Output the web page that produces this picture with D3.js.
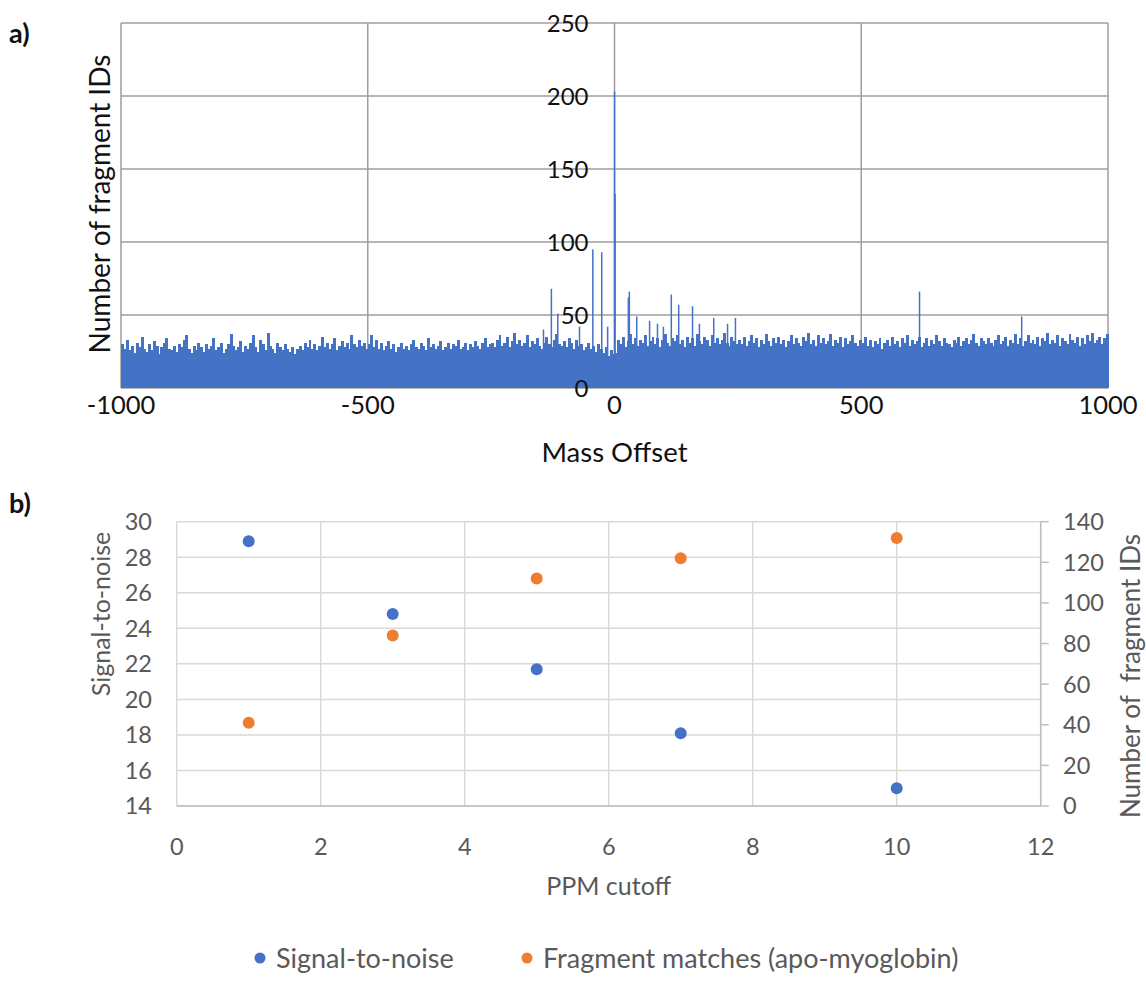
<!DOCTYPE html>
<html>
<head>
<meta charset="utf-8">
<script src="https://cdn.jsdelivr.net/npm/d3@7"></script>
<style>
    body { margin: 0; background: #fff; }
    svg { font-family: Lato, 'Open Sans', sans-serif; }
</style>
</head>
<body>
<svg id="chart" width="1146" height="981"></svg>
<script>
// ---- Data: panel a) mass offset histogram ----
// noise floor, one value per 5-unit bin starting at -1000
const noiseBinStart = -1000
const noiseBinStep = 5
const noiseCounts = [
    30,27,33,26,29,24,31,28,35,27,25,30,26,32,29,23,28,31,34,27,26,29,25,30,28,33,36,27,24,29,26,31,28,25,30,27,29,34,26,28,31,24,27,30,37,29,26,28,32,25,
    29,27,31,36,28,25,33,30,26,38,29,27,24,31,28,26,30,27,25,28,23,27,29,26,31,28,33,27,30,26,29,35,28,31,27,30,34,26,29,32,28,31,27,36,30,28,33,29,31,27,
    30,36,28,33,27,31,26,29,32,27,30,25,28,31,27,29,26,30,33,28,27,31,29,26,34,28,30,27,29,32,26,28,31,27,30,29,33,27,28,31,26,30,28,32,29,27,31,34,28,30,
    31,28,33,36,29,31,35,28,32,38,30,33,29,31,36,28,32,30,34,29,27,31,35,30,28,33,37,30,29,32,28,34,31,27,33,29,30,26,28,31,27,29,25,30,27,24,28,22,26,23,
    24,33,30,35,28,32,37,30,34,29,33,31,36,29,32,35,30,34,28,33,37,31,29,34,32,36,30,33,28,35,31,34,29,37,32,30,35,33,29,36,31,34,30,33,38,31,29,35,32,30,
    33,30,35,29,32,36,31,34,28,33,30,37,32,29,34,31,35,30,33,28,32,36,30,34,31,29,35,32,38,30,33,29,36,31,34,30,32,37,29,33,31,35,28,34,30,32,36,31,29,33,
    31,35,29,33,28,32,30,34,27,31,33,29,35,30,32,28,34,31,36,29,33,30,32,35,28,31,34,29,33,30,36,32,29,34,31,30,28,33,31,35,29,32,34,30,33,37,31,29,34,32,
    30,34,31,29,33,36,30,32,35,29,33,31,37,30,34,29,32,36,31,33,30,35,29,34,32,38,30,33,31,36,29,34,32,30,37,33,31,35,29,34,30,36,32,38,31,33,35,30,34,37
]
// isolated tall bins
const spikeOffsets = [-144, -128, -115, -71, -44, -26, -14, 0, 1, 28, 30, 45, 71, 87, 99, 115, 130, 158, 172, 201, 229, 245, 618, 825]
const spikeCounts  = [40, 68, 51, 42, 95, 93, 42, 203, 133, 62, 66, 49, 46, 44, 42, 64, 57, 56, 44, 48, 44, 48, 66, 49]
const massTicks = [-1000, -500, 0, 500, 1000]
const countTicks = [0, 50, 100, 150, 200, 250]

// ---- Data: panel b) ppm cutoff ----
const ppmCutoff = [1, 3, 5, 7, 10]
const signalToNoise = [28.9, 24.8, 21.7, 18.1, 15.0]
const fragmentMatches = [41, 84, 112, 122, 132]
const ppmTicks = [0, 2, 4, 6, 8, 10, 12]
const snTicks = [14, 16, 18, 20, 22, 24, 26, 28, 30]
const matchTicks = [0, 20, 40, 60, 80, 100, 120, 140]
const legendLabels = ['Signal-to-noise', 'Fragment matches (apo-myoglobin)']

const colorBlue = '#4472C4'
const colorOrange = '#ED7D31'
const colorText = '#595959'

const svg = d3.select('#chart')

//==================== panel a ====================
const aLeft = 121, aRight = 1108, aTop = 23, aBottom = 388

const xMass = d3.scaleLinear().domain([-1000, 1000]).range([aLeft, aRight])
const yCount = d3.scaleLinear().domain([0, 250]).range([aBottom, aTop])

const gA = svg.append('g')

// grid
gA.selectAll('.hgrid').data(countTicks).join('line')
    .attr('x1', aLeft).attr('x2', aRight)
    .attr('y1', d => yCount(d)).attr('y2', d => yCount(d))
    .attr('stroke', '#9e9e9e').attr('stroke-width', 1.5)
gA.selectAll('.vgrid').data(massTicks).join('line')
    .attr('x1', d => xMass(d)).attr('x2', d => xMass(d))
    .attr('y1', aTop).attr('y2', aBottom)
    .attr('stroke', '#9e9e9e').attr('stroke-width', 1.5)

// noise bars
gA.append('g').attr('shape-rendering', 'crispEdges')
    .selectAll('rect').data(noiseCounts).join('rect')
    .attr('x', (d, i) => xMass(noiseBinStart + i * noiseBinStep))
    .attr('width', xMass(noiseBinStep) - xMass(0) + 0.5)
    .attr('y', d => yCount(d))
    .attr('height', d => aBottom - yCount(d))
    .attr('fill', colorBlue)

// spikes
gA.append('g')
    .selectAll('rect').data(spikeOffsets).join('rect')
    .attr('x', d => xMass(d) - 0.7)
    .attr('width', 1.5)
    .attr('y', (d, i) => yCount(spikeCounts[i]))
    .attr('height', (d, i) => aBottom - yCount(spikeCounts[i]))
    .attr('fill', colorBlue)

// y labels sit next to the zero line
gA.selectAll('.ylab').data(countTicks).join('text')
    .attr('x', xMass(0) - 26).attr('y', d => yCount(d))
    .attr('dy', '0.36em')
    .attr('text-anchor', 'end')
    .attr('font-size', 24)
    .attr('fill', '#111')
    .text(d => d)

gA.selectAll('.xlab').data(massTicks).join('text')
    .attr('x', d => xMass(d)).attr('y', 405)
    .attr('dy', '0.36em')
    .attr('text-anchor', 'middle')
    .attr('font-size', 25.5)
    .attr('fill', '#111')
    .text(d => d)

gA.append('text')
    .attr('x', xMass(0)).attr('y', 452)
    .attr('dy', '0.36em')
    .attr('text-anchor', 'middle')
    .attr('font-size', 27.5)
    .attr('fill', '#111')
    .text('Mass Offset')

gA.append('text')
    .attr('transform', `translate(100, 204) rotate(-90)`)
    .attr('dy', '0.36em')
    .attr('text-anchor', 'middle')
    .attr('font-size', 28)
    .attr('fill', '#111')
    .text('Number of fragment IDs')

svg.append('text')
    .attr('x', 9).attr('y', 43)
    .attr('font-size', 27).attr('font-weight', 'bold')
    .attr('fill', '#111')
    .text('a)')

//==================== panel b ====================
const bLeft = 176.7, bRight = 1040.7, bTop = 521.7, bBottom = 806

const xPpm = d3.scaleLinear().domain([0, 12]).range([bLeft, bRight])
const ySn = d3.scaleLinear().domain([14, 30]).range([bBottom, bTop])
const yMatch = d3.scaleLinear().domain([0, 140]).range([bBottom, bTop])

const gB = svg.append('g')

gB.selectAll('.hgrid').data(snTicks).join('line')
    .attr('x1', bLeft).attr('x2', bRight)
    .attr('y1', d => ySn(d)).attr('y2', d => ySn(d))
    .attr('stroke', '#d9d9d9').attr('stroke-width', 1.5)
gB.selectAll('.vgrid').data(ppmTicks).join('line')
    .attr('x1', d => xPpm(d)).attr('x2', d => xPpm(d))
    .attr('y1', bTop).attr('y2', bBottom)
    .attr('stroke', '#d9d9d9').attr('stroke-width', 1.5)

// bottom and right axis lines with right ticks
gB.append('line')
    .attr('x1', bLeft).attr('x2', bRight)
    .attr('y1', bBottom).attr('y2', bBottom)
    .attr('stroke', '#bfbfbf').attr('stroke-width', 1.5)
gB.append('line')
    .attr('x1', bRight).attr('x2', bRight)
    .attr('y1', bTop).attr('y2', bBottom)
    .attr('stroke', '#bfbfbf').attr('stroke-width', 1.5)
gB.selectAll('.rtick').data(matchTicks).join('line')
    .attr('x1', bRight).attr('x2', bRight + 8)
    .attr('y1', d => yMatch(d)).attr('y2', d => yMatch(d))
    .attr('stroke', '#bfbfbf').attr('stroke-width', 1.5)

// points
gB.selectAll('.sn').data(ppmCutoff).join('circle')
    .attr('cx', d => xPpm(d))
    .attr('cy', (d, i) => ySn(signalToNoise[i]))
    .attr('r', 6)
    .attr('fill', colorBlue)
gB.selectAll('.fm').data(ppmCutoff).join('circle')
    .attr('cx', d => xPpm(d))
    .attr('cy', (d, i) => yMatch(fragmentMatches[i]))
    .attr('r', 6)
    .attr('fill', colorOrange)

// labels
gB.selectAll('.llab').data(snTicks).join('text')
    .attr('x', 152).attr('y', d => ySn(d))
    .attr('dy', '0.36em')
    .attr('text-anchor', 'end')
    .attr('font-size', 23.5)
    .attr('fill', colorText)
    .text(d => d)
gB.selectAll('.rlab').data(matchTicks).join('text')
    .attr('x', 1063).attr('y', d => yMatch(d))
    .attr('dy', '0.36em')
    .attr('font-size', 23.5)
    .attr('fill', colorText)
    .text(d => d)
gB.selectAll('.xlab').data(ppmTicks).join('text')
    .attr('x', d => xPpm(d)).attr('y', 847)
    .attr('dy', '0.36em')
    .attr('text-anchor', 'middle')
    .attr('font-size', 23.5)
    .attr('fill', colorText)
    .text(d => d)

gB.append('text')
    .attr('x', (bLeft + bRight) / 2).attr('y', 886)
    .attr('dy', '0.36em')
    .attr('text-anchor', 'middle')
    .attr('font-size', 25)
    .attr('fill', colorText)
    .text('PPM cutoff')

gB.append('text')
    .attr('transform', `translate(101, 614) rotate(-90)`)
    .attr('dy', '0.36em')
    .attr('text-anchor', 'middle')
    .attr('font-size', 25)
    .attr('fill', colorText)
    .text('Signal-to-noise')

gB.append('text')
    .attr('transform', `translate(1131, 676) rotate(-90)`)
    .attr('dy', '0.36em')
    .attr('text-anchor', 'middle')
    .attr('font-size', 26)
    .attr('fill', colorText)
    .attr('xml:space', 'preserve')
    .style('white-space', 'pre')
    .text('Number of  fragment IDs')

svg.append('text')
    .attr('x', 9).attr('y', 513)
    .attr('font-size', 27).attr('font-weight', 'bold')
    .attr('fill', '#111')
    .text('b)')

// legend
const legendX = [260, 527]
const legend = gB.selectAll('.legend').data(legendLabels).join('g')
    .attr('transform', (d, i) => `translate(${legendX[i]}, 958)`)
legend.append('circle')
    .attr('r', 5.5)
    .attr('fill', (d, i) => i == 0 ? colorBlue : colorOrange)
legend.append('text')
    .attr('x', 16)
    .attr('dy', '0.36em')
    .attr('font-size', 27)
    .attr('fill', colorText)
    .text(d => d)
</script>
</body>
</html>
